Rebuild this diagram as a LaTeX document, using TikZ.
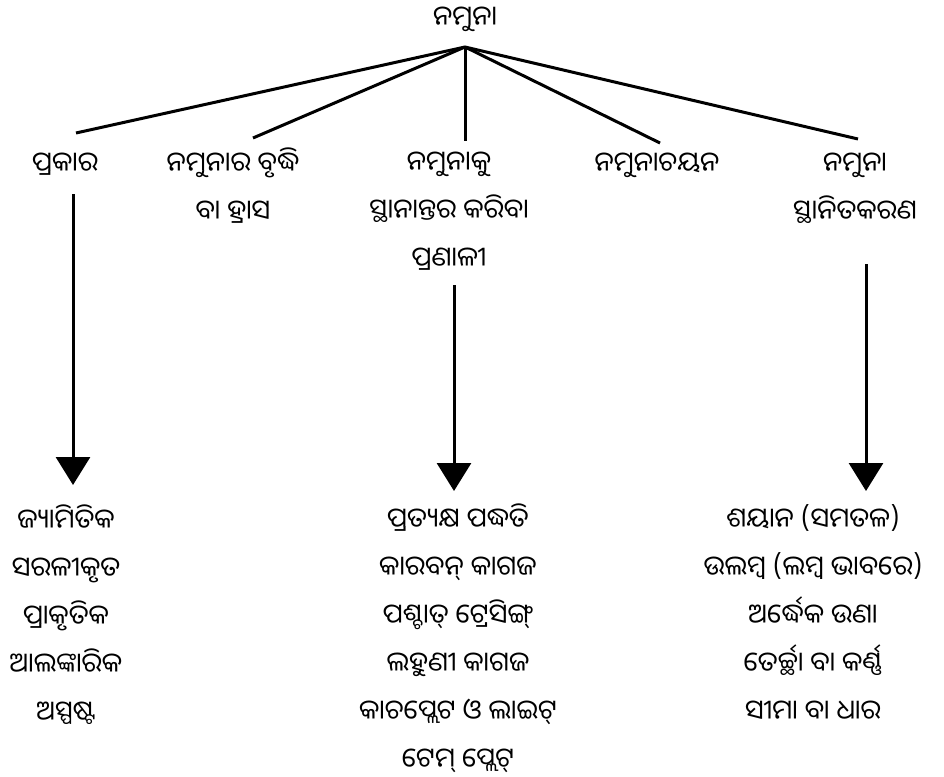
\documentclass[tikz,border=0pt]{standalone}
\usepackage{fontspec}
\newfontfamily\odia[Script=Oriya]{Noto Sans Oriya UI}
\usetikzlibrary{arrows.meta}
\begin{document}
\begin{tikzpicture}[x=1pt,y=-1pt,
  lbl/.style={font={\odia\fontsize{27pt}{48pt}\selectfont},align=center,anchor=base,inner sep=0pt},
  link/.style={line width=3pt},
  arr/.style={line width=3pt,-{Triangle[width=34pt,length=28pt]}}]
\useasboundingbox (0,0) rectangle (944,776);
% root
\node[lbl] (root) at (465,28) {ନମୁନା};
\coordinate (hub) at (465,47);
% level 1 (y = baseline of the last line)
\node[lbl] (type) at (65,173) {ପ୍ରକାର};
\node[lbl] (scale) at (233,221) {ନମୁନାର ବୃଦ୍ଧି\\ବା ହ୍ରାସ};
\node[lbl] (transfer) at (449,268) {ନମୁନାକୁ\\ସ୍ଥାନାନ୍ତର କରିବା\\ପ୍ରଣାଳୀ};
\node[lbl] (select) at (657,173) {ନମୁନାଚୟନ};
\node[lbl] (place) at (855,221) {ନମୁନା\\ସ୍ଥାନିତକରଣ};
% line ends
\coordinate (e1) at (76,133);
\coordinate (e2) at (253,138);
\coordinate (e3) at (465,141);
\coordinate (e4) at (660,143);
\coordinate (e5) at (858,139);
\draw[link] (hub) -- (e1);
\draw[link] (hub) -- (e2);
\draw[link] (hub) -- (e3);
\draw[link] (hub) -- (e4);
\draw[link] (hub) -- (e5);
% lists
\node[lbl] (list1) at (66,722) {ଜ୍ୟାମିତିକ\\ସରଳୀକୃତ\\ପ୍ରାକୃତିକ\\ଆଲଙ୍କାରିକ\\ଅସ୍ପଷ୍ଟ};
\node[lbl] (list2) at (458,769) {ପ୍ରତ୍ୟକ୍ଷ ପଦ୍ଧତି\\କାରବନ୍ କାଗଜ\\ପଶ୍ଚାତ୍ ଟ୍ରେସିଙ୍ଗ୍\\ଲହୁଣୀ କାଗଜ\\କାଚପ୍ଲେଟ ଓ ଲାଇଟ୍\\ଟେମ୍ ପ୍ଲେଟ୍};
\node[lbl] (list3) at (813,721) {ଶୟାନ (ସମତଳ)\\ଉଲମ୍ବ (ଲମ୍ବ ଭାବରେ)\\ଅର୍ଦ୍ଧେକ ଉଣା\\ତେର୍ଚ୍ଛା ବା କର୍ଣ୍ଣ\\ସୀମା ବା ଧାର};
% arrows
\coordinate (a1s) at (73,194);
\coordinate (a1e) at (73,485);
\coordinate (a2s) at (454,285);
\coordinate (a2e) at (454,491);
\coordinate (a3s) at (866,264);
\coordinate (a3e) at (866,491);
\draw[arr] (a1s) -- (a1e);
\draw[arr] (a2s) -- (a2e);
\draw[arr] (a3s) -- (a3e);
\end{tikzpicture}
\end{document}
